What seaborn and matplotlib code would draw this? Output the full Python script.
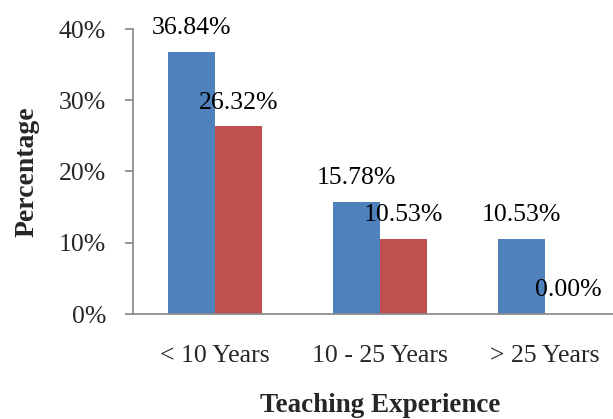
import matplotlib
matplotlib.use("Agg")
import matplotlib.pyplot as plt
import seaborn as sns
import pandas as pd
from matplotlib.ticker import FuncFormatter

# data
categories = ["< 10 Years", "10 - 25 Years", "> 25 Years"]
series_names = ["Series 1", "Series 2"]
series_1 = [36.84, 15.78, 10.53]
series_2 = [26.32, 10.53, 0.00]
label_text_1 = ["36.84%", "15.78%", "10.53%"]
label_text_2 = ["26.32%", "10.53%", "0.00%"]

df = pd.DataFrame({
    "Experience": categories * 2,
    "Series": [series_names[0]] * 3 + [series_names[1]] * 3,
    "Percentage": series_1 + series_2,
})

sns.set_theme(style="white")
plt.rcParams["font.family"] = ["Liberation Serif", "DejaVu Serif"]

fig = plt.figure(figsize=(6.13, 4.19), dpi=100)
ax = fig.add_axes([132.5 / 613, 105 / 419, 495 / 613, 285 / 419])

sns.barplot(
    data=df, x="Experience", y="Percentage", hue="Series",
    palette=["#4F81BD", "#C0504D"], width=0.57, legend=False,
    saturation=1, ax=ax, errorbar=None, linewidth=0, edgecolor="none",
)

# value labels over each bar
labels = label_text_1 + label_text_2
for patch, txt in zip(ax.patches, labels):
    ax.annotate(txt, (patch.get_x() + patch.get_width() / 2, patch.get_height()),
                xytext=(0, 17), textcoords="offset points",
                ha="center", va="center", fontsize=18.5, color="black")

ax.set_ylim(0, 40)
ax.set_yticks([0, 10, 20, 30, 40])
ax.yaxis.set_major_formatter(FuncFormatter(lambda v, p: f"{v:.0f}%"))
ax.set_xlim(-0.5, 2.5)

for side in ["top", "right"]:
    ax.spines[side].set_visible(False)
for side in ["left", "bottom"]:
    ax.spines[side].set_color("#868686")
    ax.spines[side].set_linewidth(1.2)

ax.tick_params(axis="y", length=6, width=1.2, color="#868686", direction="out",
               pad=13, labelsize=18.5, left=True)
ax.tick_params(axis="x", length=0, pad=22, labelsize=18.5)

ax.set_xlabel("Teaching Experience", fontsize=19.5, fontweight="bold", labelpad=19)
ax.set_ylabel("Percentage", fontsize=20, fontweight="bold", labelpad=14)

fig.savefig("out.png", dpi=100)
